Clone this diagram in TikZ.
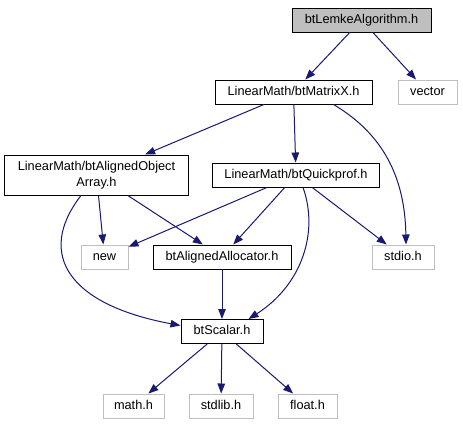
\documentclass[tikz,border=0pt]{standalone}
\usepackage{fontspec}
\setmainfont{Liberation Sans}
\usetikzlibrary{arrows.meta,calc}
\definecolor{edgec}{HTML}{191970}
\definecolor{extc}{HTML}{BFBFBF}
\definecolor{curfill}{HTML}{BFBFBF}
\begin{document}
\begin{tikzpicture}[x=1bp,y=-1bp,
  basebox/.style={line width=1bp,inner sep=0pt,font=\fontsize{12.8}{15.5}\selectfont},
  onebox/.style={basebox,text height=9.5bp,text depth=2.7bp,minimum height=24bp},
  docbox/.style={onebox,draw=black},
  extbox/.style={onebox,draw=extc},
  curbox/.style={docbox,fill=curfill},
  twobox/.style={basebox,draw=black,align=center,minimum height=40bp},
  edge/.style={draw=edgec,line width=1bp,-{Triangle[length=10bp,width=7.5bp]}}
]
\useasboundingbox (0,0) rectangle (463,425);
\fill[white] (0,0) rectangle (463,425);

\node[curbox,minimum width=139bp] (lemke) at (361.5,20) {btLemkeAlgorithm.h};
\node[docbox,minimum width=157bp] (matrix) at (293.5,92) {LinearMath/btMatrixX.h};
\node[extbox,minimum width=59bp] (vector) at (427.5,92) {vector};
\node[twobox,minimum width=183bp] (aoa) at (96.5,175) {LinearMath/btAlignedObject\\Array.h};
\node[docbox,minimum width=167bp] (qp) at (296,175) {LinearMath/btQuickprof.h};
\node[extbox,minimum width=47bp] (new) at (104.5,257) {new};
\node[docbox,minimum width=138bp] (alloc) at (222,257) {btAlignedAllocator.h};
\node[extbox,minimum width=62bp] (stdio) at (403,257) {stdio.h};
\node[docbox,minimum width=82bp] (scalar) at (222,331.5) {btScalar.h};
\node[extbox,minimum width=61bp] (math) at (133.5,406) {math.h};
\node[extbox,minimum width=64bp] (stdlib) at (221,406) {stdlib.h};
\node[extbox,minimum width=59bp] (float) at (307.5,406) {float.h};

\draw[edge] (lemke) -- (matrix);
\draw[edge] (lemke) -- (vector);
\draw[edge] (matrix) -- (aoa);
\draw[edge] (matrix) -- (qp);
\draw[edge] ($(matrix.south)+(40,0)$) .. controls (385,135) and (405,180) .. ($(stdio.north)+(3,0)$);
\draw[edge] (aoa) -- (new);
\draw[edge] (aoa) -- (alloc);
\draw[edge] ($(aoa.south)+(-15.5,0)$) .. controls (35,255) and (70,305) .. ($(scalar.west)+(0,-6)$);
\draw[edge] (qp) -- (new);
\draw[edge] (qp) -- (alloc);
\draw[edge] (qp) -- (stdio);
\draw[edge] ($(qp.south)+(7,0)$) .. controls (319,232) and (302,285) .. ($(scalar.north east)+(-15,0)$);
\draw[edge] (alloc) -- (scalar);
\draw[edge] (scalar) -- (math);
\draw[edge] (scalar) -- (stdlib);
\draw[edge] (scalar) -- (float);
\end{tikzpicture}
\end{document}
